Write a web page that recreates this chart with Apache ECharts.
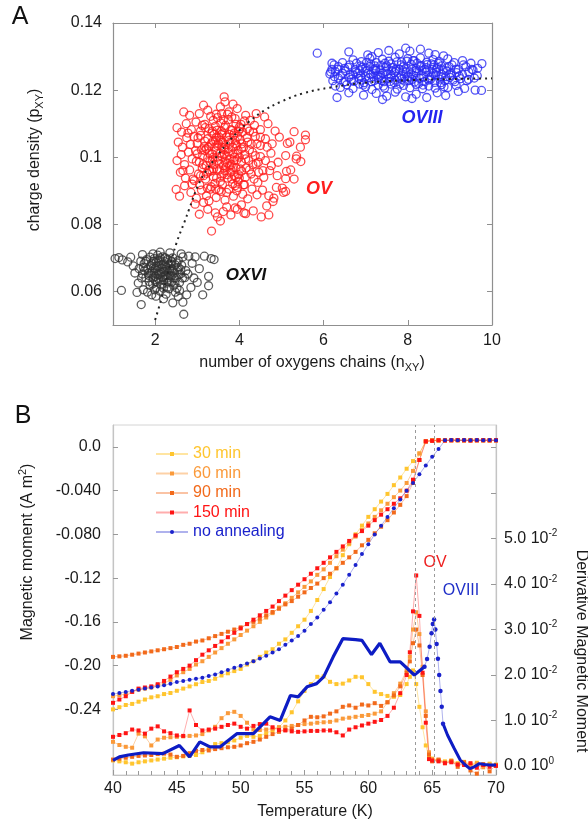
<!DOCTYPE html>
<html lang="en">
<head>
    <meta charset="UTF-8">
    <title>Charge density / magnetic moment</title>
    <style>
        html, body {
            margin: 0;
            padding: 0;
            width: 100%;
            height: 100%;
            overflow: hidden;
            background: #fff;
        }
        #chart {
            width: 588px;
            height: 828px;
        }
    </style>
</head>
<body>
<div id="chart"></div>
<script src="https://cdn.jsdelivr.net/npm/echarts@6/dist/echarts.min.js"></script>
<script>
    var FONT = '"Liberation Sans", Arial, Helvetica, sans-serif';
    var TXT = '#1a1a1a';

    // ---- panel A : charge density vs number of oxygen chains ----
    var ptsOXVI = [
        [1.62,0.0668],[1.70,0.0652],[1.74,0.0683],[1.78,0.0641],[1.80,0.0695],[1.83,0.0667],[1.86,0.0630],[1.88,0.0702],[1.90,0.0655],[1.92,0.0684],
        [1.94,0.0622],[1.96,0.0671],[1.98,0.0698],[2.00,0.0645],[2.02,0.0686],[2.03,0.0612],[2.05,0.0662],[2.06,0.0708],[2.08,0.0638],[2.10,0.0677],
        [2.11,0.0693],[2.13,0.0651],[2.15,0.0620],[2.16,0.0680],[2.18,0.0703],[2.20,0.0660],[2.21,0.0635],[2.23,0.0689],[2.25,0.0648],[2.27,0.0672],
        [2.29,0.0612],[2.30,0.0696],[2.32,0.0657],[2.34,0.0629],[2.36,0.0683],[2.38,0.0646],[2.40,0.0668],[2.42,0.0700],[2.44,0.0618],[2.46,0.0655],
        [2.48,0.0679],[2.50,0.0640],[2.53,0.0665],[2.55,0.0692],[2.58,0.0627],[2.60,0.0652],[2.63,0.0678],[2.66,0.0703],[2.70,0.0641],[2.73,0.0662],
        [1.75,0.0662],[1.85,0.0648],[1.95,0.0640],[2.05,0.0628],[2.15,0.0656],[2.25,0.0675],[2.35,0.0665],[2.45,0.0640],[2.55,0.0672],[2.00,0.0668],
        [2.10,0.0652],[2.20,0.0682],[2.30,0.0640],[2.40,0.0688],[1.90,0.0676],[2.08,0.0690],[2.18,0.0642],[2.28,0.0660],[2.38,0.0628],[1.98,0.0655],
        [1.05,0.0698],[1.14,0.0701],[1.22,0.0694],[1.20,0.0603],[1.35,0.0688],[1.42,0.0702],[1.48,0.0676],[1.52,0.0655],[1.57,0.0597],[1.67,0.0561],
        [1.60,0.0625],[1.72,0.0605],[1.82,0.0598],[1.92,0.0590],[2.02,0.0586],[2.12,0.0601],[2.26,0.0592],[2.42,0.0566],[2.48,0.0598],[2.58,0.0603],
        [2.66,0.0568],[2.68,0.0532],[2.75,0.0590],[2.85,0.0612],[2.92,0.0640],[2.88,0.0684],[2.95,0.0703],[3.05,0.0668],[3.13,0.0590],[3.17,0.0705],
        [3.27,0.0645],[3.27,0.0617],[3.33,0.0698],[3.40,0.0695],[2.80,0.0705],[2.62,0.0712],[2.35,0.0715],[2.12,0.0717],[1.95,0.0712],[1.70,0.0710],
        [3.00,0.0627],[2.78,0.0652],[2.55,0.0585],[2.20,0.0578],
        [1.72,0.0672],[1.78,0.0690],[1.84,0.0655],[1.88,0.0618],[1.93,0.0660],[1.97,0.0690],[2.01,0.0630],[2.04,0.0675],[2.07,0.0650],[2.12,0.0700],
        [2.14,0.0635],[2.17,0.0668],[2.22,0.0645],[2.24,0.0700],[2.28,0.0625],[2.31,0.0678],[2.35,0.0648],[2.39,0.0690],[2.43,0.0660],[2.47,0.0625],
        [2.51,0.0685],[2.56,0.0650],[2.61,0.0665],[2.65,0.0640],[1.66,0.0690],[1.68,0.0640],[2.33,0.0608],[2.20,0.0610],[1.99,0.0605],[2.52,0.0610]
    ];
    var ptsOV = [
        [3.34,0.0780],[3.05,0.0830],[3.25,0.0845],[3.48,0.0822],[3.62,0.0838],[3.80,0.0828],[3.95,0.0845],[4.15,0.0832],[4.33,0.0840],[4.52,0.0822],
        [4.65,0.0855],[2.95,0.0860],[3.15,0.0865],[3.70,0.0852],[4.05,0.0858],[4.80,0.0868],[3.55,0.0810],[3.43,0.0834],[3.90,0.0849],[4.11,0.0834],
        [4.70,0.0828],[4.82,0.0878],[2.50,0.0904],[2.58,0.0884],
        [2.85,0.0895],[2.98,0.0878],[3.10,0.0902],[3.22,0.0885],[3.33,0.0912],[3.45,0.0880],[3.57,0.0898],[3.66,0.0872],[3.75,0.0905],[3.86,0.0884],
        [3.96,0.0910],[4.08,0.0890],[4.20,0.0876],[4.30,0.0905],[4.42,0.0888],[4.55,0.0902],[4.70,0.0885],[4.88,0.0910],[5.05,0.0895],[2.70,0.0915],
        [3.28,0.0870],[3.90,0.0915],[4.12,0.0918],[5.02,0.0908],[5.10,0.0898],
        [2.60,0.0955],[2.72,0.0938],[2.82,0.0962],[2.93,0.0930],[3.03,0.0950],[3.12,0.0968],[3.20,0.0935],[3.30,0.0958],[3.38,0.0942],[3.47,0.0965],
        [3.55,0.0928],[3.63,0.0952],[3.72,0.0938],[3.80,0.0962],[3.88,0.0945],[3.97,0.0928],[4.05,0.0958],[4.14,0.0940],[4.24,0.0962],[4.35,0.0935],
        [4.46,0.0955],[4.58,0.0940],[4.72,0.0960],[4.90,0.0945],[5.12,0.0958],[5.30,0.0935],[3.42,0.0922],[3.68,0.0970],[3.92,0.0968],[4.00,0.0938],
        [5.10,0.0936],[5.22,0.0962],
        [2.52,0.0990],[2.62,0.1008],[2.70,0.0978],[2.79,0.1015],[2.88,0.0995],[2.96,0.1020],[3.05,0.0985],[3.13,0.1005],[3.21,0.0975],[3.29,0.1012],
        [3.36,0.0992],[3.44,0.1018],[3.52,0.0980],[3.59,0.1002],[3.66,0.0988],[3.74,0.1015],[3.81,0.0978],[3.89,0.1000],[3.97,0.1020],[4.05,0.0985],
        [4.13,0.1008],[4.22,0.0990],[4.31,0.1015],[4.40,0.0980],[4.50,0.1002],[4.62,0.0990],[4.75,0.1012],[4.92,0.0985],[5.10,0.1005],[5.35,0.0995],
        [3.48,0.1000],[3.70,0.1003],[3.55,0.1012],[3.62,0.0975],[3.85,0.1010],[3.40,0.0978],[3.25,0.0998],[4.00,0.1000],[3.78,0.0995],[5.46,0.0987],
        [5.36,0.1003],
        [2.55,0.1045],[2.65,0.1030],[2.75,0.1058],[2.84,0.1038],[2.92,0.1062],[3.00,0.1040],[3.08,0.1065],[3.17,0.1032],[3.25,0.1055],[3.33,0.1040],
        [3.40,0.1068],[3.48,0.1035],[3.56,0.1050],[3.63,0.1028],[3.70,0.1060],[3.78,0.1042],[3.86,0.1066],[3.94,0.1035],[4.02,0.1052],[4.10,0.1030],
        [4.18,0.1058],[4.28,0.1040],[4.38,0.1062],[4.50,0.1035],[4.62,0.1055],[4.78,0.1040],[4.95,0.1060],[5.20,0.1045],[5.45,0.1030],[3.52,0.1060],
        [3.60,0.1045],[3.75,0.1050],[3.44,0.1050],[3.90,0.1050],[5.14,0.1041],[5.30,0.1076],[5.57,0.1066],[5.57,0.1052],
        [2.52,0.1088],[2.63,0.1075],[2.74,0.1100],[2.86,0.1082],[2.97,0.1105],[3.08,0.1078],[3.18,0.1098],[3.28,0.1085],[3.38,0.1110],[3.47,0.1080],
        [3.56,0.1102],[3.65,0.1088],[3.74,0.1112],[3.83,0.1080],[3.92,0.1098],[4.02,0.1085],[4.12,0.1108],[4.24,0.1078],[4.36,0.1095],[4.50,0.1082],
        [4.68,0.1100],[4.85,0.1078],[3.35,0.1072],[3.60,0.1072],[3.88,0.1072],
        [2.82,0.1125],[3.05,0.1130],[3.25,0.1140],[3.45,0.1128],[3.55,0.1150],[3.64,0.1180],[3.66,0.1165],[3.75,0.1135],[3.95,0.1145],[4.15,0.1125],
        [4.40,0.1130],[3.15,0.1155],[3.85,0.1158],[4.60,0.1120],[2.68,0.1135],
        [3.15,0.0945],[3.35,0.0960],[3.58,0.0945],[3.78,0.0955],[3.98,0.0948],[3.22,0.1025],[3.42,0.1030],[3.65,0.1022],[3.84,0.1030],[4.05,0.1025],
        [3.30,0.0988],[3.50,0.0990],[3.72,0.0982],[3.94,0.0992],[3.18,0.1048],[3.58,0.1068],[3.82,0.0935],[3.38,0.1048],[3.68,0.1038],[3.96,0.1062],
        [2.90,0.0935],[2.98,0.0988],[3.02,0.1058],[3.06,0.0918],[3.10,0.1022],[3.14,0.0978],[3.19,0.1088],[3.23,0.0952],[3.27,0.1030],[3.31,0.0905],
        [3.35,0.1010],[3.39,0.0965],[3.43,0.1092],[3.46,0.0938],[3.50,0.1042],[3.53,0.0962],[3.57,0.1078],[3.60,0.0918],[3.64,0.1008],[3.67,0.1095],
        [3.71,0.0948],[3.74,0.1025],[3.77,0.0975],[3.80,0.1082],[3.84,0.0920],[3.87,0.0990],[3.91,0.1040],[3.94,0.0900],[3.98,0.1078],[4.02,0.0965],
        [4.06,0.1040],[4.10,0.0918],[4.15,0.0995],[4.19,0.1085],[4.24,0.1022],[4.28,0.0950],[4.33,0.1075],[4.38,0.1005],[4.44,0.0925],[4.50,0.1060],
        [3.00,0.1010],[3.12,0.1095],[3.24,0.0908],[3.36,0.1078],[3.48,0.1118],[3.52,0.0902],[3.62,0.1112],[3.70,0.0895],[3.82,0.1120],[3.93,0.0940],
        [4.04,0.1098],[4.16,0.0968],[4.26,0.1110],[4.45,0.0985],[4.56,0.0960],[4.66,0.1030],[4.76,0.0975],[2.78,0.1072],[2.66,0.0960],[2.88,0.0920],
        [3.08,0.0945],[3.18,0.1020],[3.28,0.0962],[3.38,0.1000],[3.46,0.1060],[3.58,0.1030],[3.66,0.0960],[3.76,0.1068],[3.86,0.0970],[3.96,0.1010],
        [4.08,0.1075],[4.20,0.1045],[4.32,0.0978],[4.42,0.1040],[3.32,0.1122],[3.72,0.1128],[3.58,0.1130],[3.44,0.0905],[3.90,0.1115],[4.00,0.1090]
    ];
    var ptsOVIII = [
        [6.60,0.1314],[7.05,0.1305],[7.30,0.1312],[7.55,0.1318],[7.80,0.1308],[8.05,0.1316],[8.30,0.1322],[8.50,0.1310],[8.85,0.1302],[7.95,0.1325],
        [7.15,0.1300],[8.65,0.1306],
        [6.45,0.1282],[6.70,0.1290],[6.90,0.1285],[7.10,0.1295],[7.25,0.1282],[7.40,0.1292],[7.55,0.1286],[7.70,0.1298],[7.85,0.1284],[8.00,0.1294],
        [8.15,0.1288],[8.30,0.1296],[8.45,0.1283],[8.60,0.1291],[8.75,0.1285],[8.95,0.1293],[9.10,0.1282],[9.30,0.1288],[6.25,0.1275],[9.76,0.1279],
        [9.50,0.1280],
        [6.20,0.1262],[6.35,0.1270],[6.50,0.1265],[6.62,0.1275],[6.75,0.1262],[6.88,0.1272],[7.00,0.1266],[7.12,0.1278],[7.24,0.1264],[7.36,0.1274],
        [7.48,0.1268],[7.60,0.1278],[7.72,0.1263],[7.84,0.1275],[7.96,0.1266],[8.08,0.1277],[8.20,0.1264],[8.32,0.1273],[8.44,0.1267],[8.56,0.1278],
        [8.68,0.1263],[8.80,0.1272],[8.92,0.1266],[9.05,0.1275],[9.20,0.1262],[9.38,0.1270],[9.55,0.1260],
        [6.15,0.1248],[6.28,0.1255],[6.40,0.1243],[6.52,0.1257],[6.64,0.1246],[6.76,0.1254],[6.88,0.1242],[7.00,0.1256],[7.12,0.1247],[7.24,0.1258],
        [7.36,0.1244],[7.48,0.1255],[7.60,0.1246],[7.72,0.1257],[7.84,0.1243],[7.96,0.1254],[8.08,0.1248],[8.20,0.1258],[8.32,0.1245],[8.44,0.1255],
        [8.56,0.1242],[8.68,0.1253],[8.80,0.1247],[8.92,0.1257],[9.04,0.1244],[9.16,0.1252],[9.30,0.1246],[9.45,0.1254],[9.65,0.1243],
        [6.22,0.1228],[6.35,0.1236],[6.48,0.1224],[6.60,0.1238],[6.72,0.1226],[6.84,0.1235],[6.96,0.1222],[7.08,0.1237],[7.20,0.1228],[7.32,0.1239],
        [7.44,0.1225],[7.56,0.1234],[7.68,0.1222],[7.80,0.1236],[7.92,0.1227],[8.04,0.1238],[8.16,0.1224],[8.28,0.1235],[8.40,0.1226],[8.52,0.1237],
        [8.64,0.1223],[8.76,0.1233],[8.88,0.1228],[9.00,0.1238],[9.12,0.1225],[9.25,0.1234],[9.40,0.1228],[9.58,0.1236],
        [6.40,0.1208],[6.55,0.1216],[6.70,0.1205],[6.85,0.1218],[7.00,0.1210],[7.15,0.1202],[7.30,0.1215],[7.45,0.1206],[7.60,0.1218],[7.75,0.1203],
        [7.90,0.1214],[8.05,0.1207],[8.20,0.1217],[8.35,0.1204],[8.50,0.1212],[8.65,0.1206],[8.80,0.1216],[8.95,0.1208],[9.15,0.1214],[9.35,0.1205],
        [6.28,0.1212],
        [6.32,0.1178],[6.60,0.1192],[6.95,0.1185],[7.25,0.1190],[7.50,0.1182],[7.70,0.1194],[7.95,0.1180],[8.20,0.1188],[8.45,0.1178],[8.70,0.1192],
        [8.90,0.1184],[9.20,0.1196],[9.60,0.1200],[9.75,0.1199],[7.40,0.1172],[8.10,0.1175],
        [5.85,0.1310],[6.20,0.1280],[6.17,0.1254],
        [6.80,0.1250],[7.00,0.1240],[7.20,0.1262],[7.40,0.1250],[7.60,0.1240],[7.80,0.1262],[8.00,0.1240],[8.20,0.1252],[8.40,0.1262],[8.60,0.1250],
        [8.80,0.1240],[7.10,0.1270],[7.50,0.1272],[7.90,0.1270],[8.30,0.1270],[8.70,0.1268],[6.90,0.1230],[7.30,0.1232],[7.70,0.1230],[8.10,0.1232],
        [8.50,0.1230],
        [6.45,0.1250],[6.58,0.1268],[6.66,0.1232],[6.78,0.1280],[6.86,0.1258],[6.94,0.1215],[7.02,0.1282],[7.06,0.1250],[7.14,0.1225],[7.22,0.1272],
        [7.28,0.1245],[7.34,0.1260],[7.42,0.1212],[7.46,0.1280],[7.52,0.1248],[7.58,0.1226],[7.64,0.1268],[7.68,0.1252],[7.74,0.1284],[7.82,0.1218],
        [7.88,0.1258],[7.92,0.1240],[7.98,0.1286],[8.02,0.1228],[8.10,0.1262],[8.14,0.1244],[8.22,0.1280],[8.26,0.1220],[8.34,0.1258],[8.38,0.1240],
        [8.46,0.1276],[8.54,0.1232],[8.58,0.1262],[8.66,0.1245],[8.72,0.1280],[8.78,0.1222],[8.84,0.1260],[8.90,0.1240],[8.98,0.1270],[9.08,0.1230],
        [9.14,0.1262],[9.22,0.1242],[9.32,0.1275],[9.44,0.1232],[9.52,0.1262],[6.52,0.1225],[6.70,0.1245],[6.92,0.1268],[7.18,0.1240],[7.38,0.1228],
        [7.62,0.1258],[7.86,0.1232],[8.12,0.1288],[8.36,0.1215],[8.62,0.1275],[8.86,0.1210],[9.02,0.1250],[6.34,0.1262],[6.26,0.1240],[9.66,0.1265]
    ];
    var fitN = [2.0, 2.13, 2.3, 2.51, 2.7, 2.81, 3.01, 3.2, 3.4, 3.7, 4.0, 4.23, 4.6, 4.98, 5.5, 6.17, 7.0, 8.13, 9.0, 10.0];
    var fitP = [0.0515, 0.057, 0.0655, 0.0745, 0.0808, 0.0846, 0.0913, 0.0958, 0.0992, 0.1040, 0.1080, 0.1106, 0.1140, 0.1165, 0.1190, 0.1208, 0.1222, 0.1230, 0.1233, 0.1235];
    var tickN = [2, 4, 6, 8, 10];
    var tickP = [0.06, 0.08, 0.1, 0.12, 0.14];

    // ---- panel B : magnetic moment and its derivative vs temperature ----
    var tM = [40,40.5,41,41.5,42,42.5,43,43.5,44,44.5,45,45.5,46,46.5,47,47.5,48,48.5,49,49.5,
              50,50.5,51,51.5,52,52.5,53,53.5,54,54.5,55,55.5,56,56.5,57,57.5,58,58.5,59,59.5,
              60,60.5,61,61.5,62,62.5,63,63.5,64,64.5,65,65.5,66,66.5,67,67.5,68,68.5,69,69.5,70];
    var mYel30 = [-0.240,-0.238,-0.236,-0.235,-0.233,-0.231,-0.229,-0.228,-0.226,-0.225,
                  -0.223,-0.221,-0.219,-0.217,-0.215,-0.214,-0.212,-0.209,-0.207,-0.205,
                  -0.203,-0.199,-0.196,-0.192,-0.188,-0.185,-0.180,-0.176,-0.170,-0.164,
                  -0.158,-0.150,-0.140,-0.130,-0.119,-0.111,-0.099,-0.089,-0.080,-0.072,
                  -0.064,-0.057,-0.050,-0.043,-0.035,-0.028,-0.020,-0.013,-0.006,0.005,
                  0.006,0.0058,0.006,0.0062,0.006,0.0059,0.0061,0.006,0.0062,0.0059,0.006];
    var mOr60 = [-0.228,-0.227,-0.226,-0.224,-0.222,-0.221,-0.220,-0.218,-0.216,-0.213,
                 -0.209,-0.206,-0.203,-0.199,-0.196,-0.192,-0.188,-0.184,-0.180,-0.176,
                 -0.172,-0.168,-0.164,-0.160,-0.156,-0.152,-0.147,-0.143,-0.138,-0.133,
                 -0.128,-0.123,-0.117,-0.112,-0.106,-0.100,-0.094,-0.088,-0.082,-0.076,
                 -0.070,-0.064,-0.058,-0.052,-0.046,-0.040,-0.033,-0.022,-0.006,0.005,
                 0.0058,0.006,0.0061,0.006,0.0059,0.006,0.0062,0.006,0.0058,0.006,0.0061];
    var mOr90 = [-0.192,-0.1915,-0.191,-0.190,-0.189,-0.188,-0.187,-0.186,-0.185,-0.184,
                 -0.183,-0.181,-0.180,-0.178,-0.177,-0.175,-0.173,-0.171,-0.169,-0.167,
                 -0.165,-0.162,-0.160,-0.157,-0.154,-0.151,-0.148,-0.144,-0.141,-0.137,
                 -0.133,-0.129,-0.125,-0.120,-0.116,-0.111,-0.106,-0.101,-0.096,-0.090,
                 -0.085,-0.079,-0.073,-0.067,-0.060,-0.053,-0.045,-0.033,-0.012,0.005,
                 0.006,0.0061,0.0059,0.006,0.0062,0.006,0.0058,0.0061,0.006,0.0059,0.006];
    var mRed150 = [-0.234,-0.231,-0.228,-0.224,-0.221,-0.220,-0.219,-0.217,-0.214,-0.210,
                   -0.206,-0.203,-0.200,-0.195,-0.190,-0.186,-0.182,-0.178,-0.174,-0.170,
                   -0.166,-0.162,-0.158,-0.154,-0.150,-0.146,-0.141,-0.136,-0.131,-0.126,
                   -0.121,-0.116,-0.111,-0.106,-0.101,-0.096,-0.091,-0.086,-0.081,-0.077,
                   -0.072,-0.067,-0.062,-0.057,-0.052,-0.047,-0.040,-0.030,-0.012,0.005,
                   0.0055,0.006,0.0058,0.006,0.0062,0.006,0.0058,0.006,0.0061,0.006,0.006];
    var mBlue = [-0.226,-0.225,-0.224,-0.223,-0.222,-0.221,-0.220,-0.219,-0.218,-0.2165,
                 -0.215,-0.214,-0.213,-0.212,-0.211,-0.2095,-0.208,-0.206,-0.204,-0.202,
                 -0.200,-0.198,-0.196,-0.1935,-0.191,-0.188,-0.185,-0.181,-0.177,-0.173,
                 -0.168,-0.162,-0.156,-0.149,-0.142,-0.134,-0.126,-0.117,-0.108,-0.098,
                 -0.089,-0.080,-0.072,-0.064,-0.056,-0.048,-0.040,-0.033,-0.025,-0.017,
                 -0.009,-0.002,0.006,0.0062,0.006,0.0062,0.006,0.0063,0.0061,0.0062,0.0061];

    var tD = [40,40.5,41,41.5,42,42.5,43,43.5,44,44.5,45,45.5,46,46.5,47,47.5,48,48.5,49,49.5,
              50,50.5,51,51.5,52,52.5,53,53.5,54,54.5,55,55.5,56,56.5,57,57.5,58,58.5,59,59.5,
              60,60.5,61,61.5,62,62.5,63,63.25,63.5,63.75,64,64.25,64.5,64.75,65,
              65.5,66,66.5,67,67.5,68,68.5,69,69.5,70];
    var dYel30 = [0.0012,0.0010,0.0008,0.0005,0.0008,0.0010,0.0012,0.0014,0.0016,0.0018,
                  0.0019,0.0021,0.0022,0.0024,0.0030,0.0040,0.0048,0.0050,0.0052,0.0056,
                  0.0062,0.0066,0.0064,0.0066,0.0072,0.0078,0.0085,0.0100,0.0118,0.0142,
                  0.0165,0.0180,0.0196,0.0197,0.0185,0.0180,0.0181,0.0188,0.0196,0.0195,
                  0.0180,0.0163,0.0158,0.0154,0.0152,0.0156,0.0180,
                  0.0196,0.0210,0.0180,0.0130,0.0085,0.0045,0.0020,0.0016,
                  0.0013,0.0010,0.0012,0.0006,0.0009,0.0004,0.0007,0.0002,0.0005,0.0003];
    var dOr60 = [0.0053,0.0046,0.0042,0.0040,0.0071,0.0065,0.0045,0.0058,0.0062,0.0063,
                 0.0064,0.0065,0.0066,0.0067,0.0070,0.0078,0.0086,0.0105,0.0116,0.0119,
                 0.0110,0.0095,0.0080,0.0079,0.0080,0.0082,0.0085,0.0086,0.0088,0.0090,
                 0.0092,0.0093,0.0095,0.0096,0.0097,0.0100,0.0104,0.0106,0.0108,0.0110,
                 0.0112,0.0115,0.0120,0.0140,0.0160,0.0181,0.0210,
                 0.0240,0.0300,0.0338,0.0290,0.0218,0.0120,0.0030,0.0015,
                 0.0012,0.0008,0.0010,0.0004,0.0006,0.0002,0.0005,-0.0003,0.0003,0.0001];
    var dOr90 = [0.0014,0.0016,0.0018,0.0020,0.0022,0.0023,0.0024,0.0026,0.0027,0.0025,
                 0.0020,0.0022,0.0028,0.0033,0.0035,0.0034,0.0037,0.0039,0.0041,0.0042,
                 0.0045,0.0050,0.0053,0.0058,0.0064,0.0070,0.0075,0.0079,0.0082,0.0090,
                 0.0100,0.0108,0.0107,0.0109,0.0115,0.0120,0.0130,0.0133,0.0128,0.0135,
                 0.0133,0.0138,0.0132,0.0140,0.0155,0.0175,0.0205,
                 0.0230,0.0270,0.0300,0.0265,0.0200,0.0110,0.0025,0.0010,
                 0.0014,0.0006,0.0011,-0.0002,0.0008,-0.0010,-0.0017,0.0004,-0.0012,0.0002];
    var dRed150 = [0.0064,0.0068,0.0072,0.0080,0.0078,0.0071,0.0082,0.0087,0.0076,0.0072,
                   0.0067,0.0066,0.0122,0.0090,0.0078,0.0080,0.0082,0.0086,0.0090,0.0093,
                   0.0086,0.0082,0.0088,0.0092,0.0093,0.0085,0.0079,0.0078,0.0076,0.0075,
                   0.0076,0.0077,0.0077,0.0078,0.0078,0.0074,0.0067,0.0080,0.0085,0.0089,
                   0.0093,0.0097,0.0101,0.0110,0.0128,0.0160,0.0200,
                   0.0250,0.0340,0.0419,0.0330,0.0205,0.0095,0.0015,0.0012,
                   0.0010,0.0006,0.0008,0.0003,0.0002,0.0006,-0.0004,0.0002,-0.0002,0.0000];
    // unannealed derivative: thick part, dotted peak, thick tail
    var tBlueD1 = [40,40.5,41.2,42.4,43.9,45.2,46.0,46.8,47.6,48.4,49.7,51.0,52.3,53.1,53.9,
                   54.5,55.2,55.95,56.5,57.25,58.0,59.0,59.5,60.25,60.9,61.7,62.5,63.6,64.4];
    var dBlue1 = [0.0012,0.0020,0.0024,0.0029,0.0027,0.0045,0.0020,0.0053,0.0042,0.0042,0.0071,0.0071,0.0108,0.0100,0.0155,
                  0.0152,0.0174,0.0181,0.0196,0.0240,0.0280,0.0278,0.0276,0.0245,0.0270,0.0229,0.0229,0.0200,0.0218];
    var tBlueD2 = [64.4,64.6,64.8,64.95,65.05,65.15,65.25,65.35,65.45,65.55,65.65,65.75,65.85];
    var dBlue2 = [0.0218,0.0235,0.0262,0.0292,0.0312,0.0322,0.0300,0.0268,0.0236,0.0200,0.0165,0.0130,0.0093];
    var tBlueD3 = [65.85,66.2,66.7,67.2,67.6,67.95,68.3,68.7,69.1,69.5,70];
    var dBlue3 = [0.0093,0.0068,0.0040,0.0013,0.0002,-0.0006,-0.0002,0.0005,0.0003,0.0002,0.0002];

    var tcLines = [63.7, 65.15];
    var tickM = [0, -0.04, -0.08, -0.12, -0.16, -0.2, -0.24];
    var tickMText = ['0.0', '-0.040', '-0.080', '-0.12', '-0.16', '-0.20', '-0.24'];
    var tickD = [0, 0.01, 0.02, 0.03, 0.04, 0.05, 0.06, 0.07];
    var labelD = [0, 0.01, 0.02, 0.03, 0.04, 0.05];

    var C30 = '#ffc52e', C60 = '#fa9a3a', C90 = '#f26a1b', C150 = '#ff1414', CNA = '#1a22cc';

    function zip(xs, ys) {
        return xs.map(function (x, i) { return [x, ys[i]]; });
    }

    function scatterA(name, pts, color) {
        return {
            name: name, type: 'scatter', xAxisIndex: 0, yAxisIndex: 0,
            data: pts, symbol: 'circle', symbolSize: 8,
            itemStyle: { color: 'rgba(0,0,0,0)', borderColor: color, borderWidth: 1.3 },
            silent: true
        };
    }

    function squares(name, xs, ys, color, pale, yIdx) {
        return {
            name: name, type: 'line', xAxisIndex: 2, yAxisIndex: yIdx,
            data: zip(xs, ys), symbol: 'rect', symbolSize: 4, showAllSymbol: true,
            itemStyle: { color: color },
            lineStyle: { color: pale, width: 1 },
            silent: true
        };
    }

    var labelStyle = { color: TXT, fontSize: 16, fontFamily: FONT };
    var greyA = '#8f8f8f';
    var greyB = '#c4c4c4';

    var option = {
        animation: false,
        backgroundColor: '#fff',
        grid: [
            { left: 113, top: 23, width: 379, height: 302, outerBoundsMode: 'none' },
            { left: 113, top: 425, width: 383, height: 350, outerBoundsMode: 'none',
              show: true, borderColor: '#d4d4d4', borderWidth: 1, backgroundColor: 'transparent' }
        ],
        xAxis: [
            {
                gridIndex: 0, type: 'value', min: 1, max: 10, position: 'bottom',
                axisLine: { onZero: false, lineStyle: { color: greyA, width: 1.2 } },
                axisTick: { inside: true, length: 5, customValues: tickN, lineStyle: { color: greyA } },
                axisLabel: Object.assign({ customValues: tickN, margin: 8 }, labelStyle),
                splitLine: { show: false }
            },
            {
                gridIndex: 0, type: 'value', min: 1, max: 10, position: 'top',
                axisLine: { onZero: false, lineStyle: { color: greyA, width: 1.2 } },
                axisTick: { inside: true, length: 5, customValues: [2, 4, 6, 8], lineStyle: { color: greyA } },
                axisLabel: { show: false },
                splitLine: { show: false }
            },
            {
                gridIndex: 1, type: 'value', min: 40, max: 70, interval: 5, position: 'bottom',
                axisLine: { onZero: false, lineStyle: { color: greyB, width: 1.2 } },
                axisTick: { inside: true, length: 5, lineStyle: { color: '#999' } },
                minorTick: { show: true, splitNumber: 5, length: 4, lineStyle: { color: '#999' } },
                axisLabel: Object.assign({ margin: 6 }, labelStyle),
                splitLine: { show: false },
                minorSplitLine: { show: false }
            }
        ],
        yAxis: [
            {
                gridIndex: 0, type: 'value', min: 0.05, max: 0.14, position: 'left',
                axisLine: { show: true, onZero: false, lineStyle: { color: greyA, width: 1.2 } },
                axisTick: { show: true, inside: true, length: 5, customValues: tickP, lineStyle: { color: greyA } },
                axisLabel: Object.assign({
                    customValues: tickP, margin: 11,
                    formatter: function (v) { return String(parseFloat(v.toFixed(4))); }
                }, labelStyle),
                splitLine: { show: false }
            },
            {
                gridIndex: 0, type: 'value', min: 0.05, max: 0.14, position: 'right',
                axisLine: { show: true, onZero: false, lineStyle: { color: greyA, width: 1.2 } },
                axisTick: { show: true, inside: true, length: 5, customValues: tickP, lineStyle: { color: greyA } },
                axisLabel: { show: false },
                splitLine: { show: false }
            },
            {
                gridIndex: 1, type: 'value', min: -0.30, max: 0.02, position: 'left',
                axisLine: { show: true, onZero: false, lineStyle: { color: greyB, width: 1.2 } },
                axisTick: { show: true, inside: true, length: 5, customValues: tickM, lineStyle: { color: '#999' } },
                axisLabel: Object.assign({
                    customValues: tickM, margin: 12,
                    formatter: function (v) {
                        for (var i = 0; i < tickM.length; i++) {
                            if (Math.abs(tickM[i] - v) < 1e-9) return tickMText[i];
                        }
                        return '';
                    }
                }, labelStyle),
                splitLine: { show: false }
            },
            {
                gridIndex: 1, type: 'value', min: -0.002, max: 0.075, position: 'right',
                axisLine: { show: true, onZero: false, lineStyle: { color: greyB, width: 1.2 } },
                axisTick: { show: true, inside: true, length: 5, customValues: tickD, lineStyle: { color: '#999' } },
                axisLabel: {
                    customValues: labelD, margin: 8,
                    formatter: function (v) {
                        var zero = Math.abs(v) < 1e-9;
                        return '{b|' + (zero ? 0 : v * 100).toFixed(1) + ' 10}{s|' + (zero ? '0' : '-2') + '}';
                    },
                    rich: {
                        b: { color: TXT, fontSize: 16, fontFamily: FONT },
                        s: { color: TXT, fontSize: 10, fontFamily: FONT, padding: [0, 0, 10, 0] }
                    }
                },
                splitLine: { show: false }
            }
        ],
        legend: {
            orient: 'vertical', left: 150, top: 441,
            itemWidth: 32, itemHeight: 5, itemGap: 3.5,
            selectedMode: false,
            textStyle: { fontSize: 16, fontFamily: FONT, lineHeight: 16 },
            data: [
                { name: '30 min', textStyle: { color: C30 } },
                { name: '60 min', textStyle: { color: C60 } },
                { name: '90 min', textStyle: { color: C90 } },
                { name: '150 min', textStyle: { color: C150 } },
                { name: 'no annealing', textStyle: { color: CNA } }
            ]
        },
        series: [
            scatterA('OXVI', ptsOXVI, '#333333'),
            scatterA('OV', ptsOV, '#ff1e1e'),
            scatterA('OVIII', ptsOVIII, '#2b2bf2'),
            {
                name: 'fit', type: 'line', xAxisIndex: 0, yAxisIndex: 0,
                data: zip(fitN, fitP), showSymbol: false, smooth: 0.4, z: 5,
                lineStyle: { color: '#222', width: 2, type: [2, 4] },
                silent: true
            },

            // magnetic moment (left axis)
            squares('30 min', tM, mYel30, C30, 'rgba(255,197,46,0.45)', 2),
            squares('60 min', tM, mOr60, C60, 'rgba(250,154,58,0.45)', 2),
            squares('90 min', tM, mOr90, C90, 'rgba(242,106,27,0.4)', 2),
            squares('150 min', tM, mRed150, C150, 'rgba(255,20,20,0.35)', 2),
            {
                name: 'no annealing', type: 'line', xAxisIndex: 2, yAxisIndex: 2,
                data: zip(tM, mBlue), symbol: 'circle', symbolSize: 4, showAllSymbol: true,
                itemStyle: { color: CNA },
                lineStyle: { color: 'rgba(26,34,204,0.35)', width: 1 },
                silent: true
            },

            // derivative (right axis)
            squares('30 min d', tD, dYel30, C30, 'rgba(255,197,46,0.45)', 3),
            squares('60 min d', tD, dOr60, C60, 'rgba(250,154,58,0.45)', 3),
            squares('90 min d', tD, dOr90, C90, 'rgba(242,106,27,0.4)', 3),
            Object.assign(squares('150 min d', tD, dRed150, C150, 'rgba(255,20,20,0.35)', 3), {
                markLine: {
                    silent: true, symbol: ['none', 'none'], label: { show: false },
                    lineStyle: { color: '#9a9a9a', width: 1, type: [3, 3] },
                    data: tcLines.map(function (t) { return { xAxis: t }; })
                }
            }),
            {
                name: 'no annealing d1', type: 'line', xAxisIndex: 2, yAxisIndex: 3,
                data: zip(tBlueD1, dBlue1), showSymbol: false, z: 4,
                lineStyle: { color: '#0d1cc4', width: 3.2 },
                silent: true
            },
            {
                name: 'no annealing d2', type: 'line', xAxisIndex: 2, yAxisIndex: 3,
                data: zip(tBlueD2, dBlue2), symbol: 'circle', symbolSize: 4.5, showAllSymbol: true, z: 4,
                itemStyle: { color: CNA },
                lineStyle: { color: 'rgba(26,34,204,0.35)', width: 1 },
                silent: true
            },
            {
                name: 'no annealing d3', type: 'line', xAxisIndex: 2, yAxisIndex: 3,
                data: zip(tBlueD3, dBlue3), showSymbol: false, z: 4,
                lineStyle: { color: '#0d1cc4', width: 3 },
                silent: true
            }
        ],
        graphic: [
            { type: 'text', x: 20, y: 17, style: { text: 'A', fontSize: 25, fontFamily: FONT, fill: '#111', align: 'center', verticalAlign: 'middle' } },
            { type: 'text', x: 23, y: 416, style: { text: 'B', fontSize: 25, fontFamily: FONT, fill: '#111', align: 'center', verticalAlign: 'middle' } },
            {
                type: 'text', x: 35, y: 160, rotation: Math.PI / 2,
                style: {
                    text: '{n|charge density (p}{s|XY}{n|)}', fill: TXT, align: 'center', verticalAlign: 'middle',
                    rich: {
                        n: { fontSize: 16, fontFamily: FONT },
                        s: { fontSize: 11, fontFamily: FONT, padding: [10, 0, 0, 0] }
                    }
                }
            },
            {
                type: 'text', x: 312, y: 363,
                style: {
                    text: '{n|number of oxygens chains (n}{s|XY}{n|)}', fill: TXT, align: 'center', verticalAlign: 'middle',
                    rich: {
                        n: { fontSize: 16, fontFamily: FONT },
                        s: { fontSize: 11, fontFamily: FONT, padding: [10, 0, 0, 0] }
                    }
                }
            },
            { type: 'text', x: 246, y: 275, style: { text: 'OXVI', fontSize: 17, fontWeight: 'bold', fontStyle: 'italic', fontFamily: FONT, fill: '#111', align: 'center', verticalAlign: 'middle' } },
            { type: 'text', x: 319, y: 189, style: { text: 'OV', fontSize: 18, fontWeight: 'bold', fontStyle: 'italic', fontFamily: FONT, fill: '#ff1e1e', align: 'center', verticalAlign: 'middle' } },
            { type: 'text', x: 422, y: 118, style: { text: 'OVIII', fontSize: 18, fontWeight: 'bold', fontStyle: 'italic', fontFamily: FONT, fill: '#2424f0', align: 'center', verticalAlign: 'middle' } },
            {
                type: 'text', x: 28, y: 552, rotation: Math.PI / 2,
                style: {
                    text: '{n|Magnetic moment (A m}{p|2}{n|)}', fill: TXT, align: 'center', verticalAlign: 'middle',
                    rich: {
                        n: { fontSize: 16, fontFamily: FONT },
                        p: { fontSize: 11, fontFamily: FONT, padding: [0, 0, 10, 0] }
                    }
                }
            },
            { type: 'text', x: 315, y: 812, style: { text: 'Temperature (K)', fontSize: 16, fontFamily: FONT, fill: TXT, align: 'center', verticalAlign: 'middle' } },
            { type: 'text', x: 581, y: 651, rotation: -Math.PI / 2, style: { text: 'Derivative Magnetic Moment', fontSize: 16, fontFamily: FONT, fill: TXT, align: 'center', verticalAlign: 'middle' } },
            { type: 'text', x: 435, y: 563, style: { text: 'OV', fontSize: 16, fontFamily: FONT, fill: '#ee2020', align: 'center', verticalAlign: 'middle' } },
            { type: 'text', x: 461, y: 591, style: { text: 'OVIII', fontSize: 16, fontFamily: FONT, fill: '#2030c8', align: 'center', verticalAlign: 'middle' } }
        ]
    };

    var chart = echarts.init(document.getElementById('chart'));
    chart.setOption(option);
</script>
</body>
</html>
